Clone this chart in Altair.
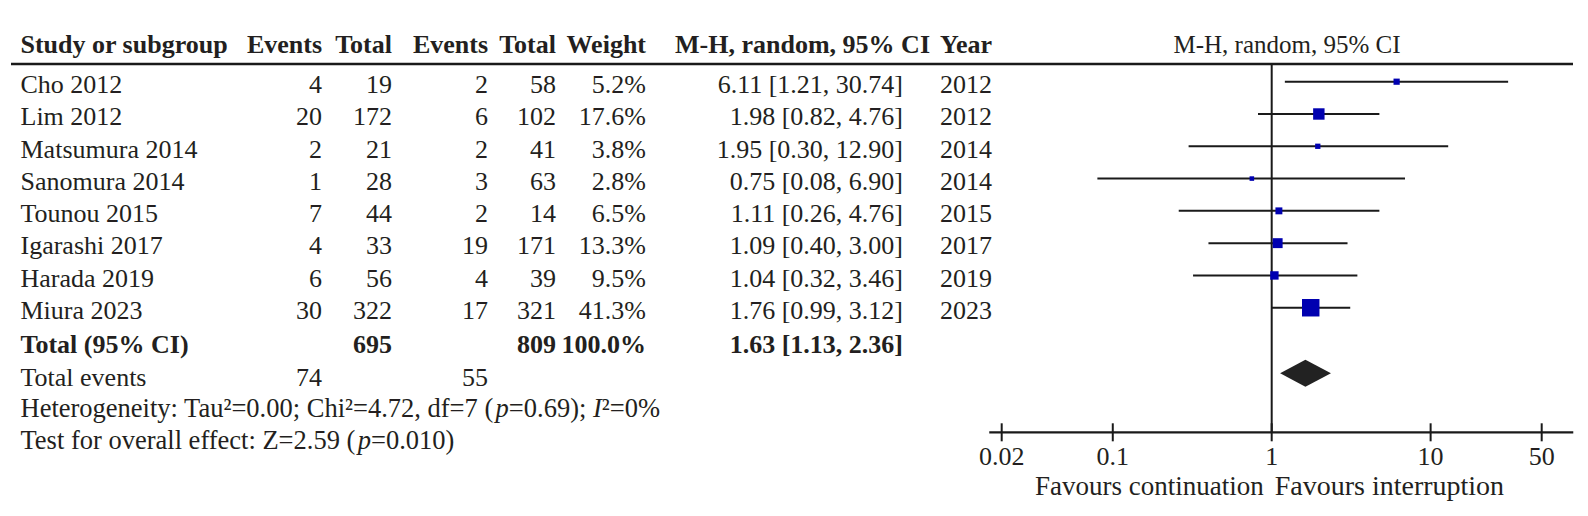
import altair as alt
import pandas as pd

# ---------------- data ----------------
studies = ["Cho 2012", "Lim 2012", "Matsumura 2014", "Sanomura 2014",
           "Tounou 2015", "Igarashi 2017", "Harada 2019", "Miura 2023"]
events_a = [4, 20, 2, 1, 7, 4, 6, 30]
total_a = [19, 172, 21, 28, 44, 33, 56, 322]
events_b = [2, 6, 2, 3, 2, 19, 4, 17]
total_b = [58, 102, 41, 63, 14, 171, 39, 321]
weights = [5.2, 17.6, 3.8, 2.8, 6.5, 13.3, 9.5, 41.3]
odds = [6.11, 1.98, 1.95, 0.75, 1.11, 1.09, 1.04, 1.76]
ci_low = [1.21, 0.82, 0.30, 0.08, 0.26, 0.40, 0.32, 0.99]
ci_high = [30.74, 4.76, 12.90, 6.90, 4.76, 3.00, 3.46, 3.12]
years = [2012, 2012, 2014, 2014, 2015, 2017, 2019, 2023]

pooled = [1.63, 1.13, 2.36]
sum_total = [695, 809]
sum_events = [74, 55]
sum_weight = "100.0%"
# (text, italic) pieces
heterogeneity = [("Heterogeneity: Tau²=0.00; Chi²=4.72, df=7 (", False), ("p", True),
                 ("=0.69); ", False), ("I", True), ("²=0%", False)]
overall = [("Test for overall effect: Z=2.59 (", False), ("p", True), ("=0.010)", False)]
headers = ["Study or subgroup", "Events", "Total", "Events", "Total",
           "Weight", "M-H, random, 95% CI", "Year"]
plot_header = "M-H, random, 95% CI"
tick_values = [0.02, 0.1, 1, 10, 50]
tick_labels = ["0.02", "0.1", "1", "10", "50"]
favours = ["Favours continuation", "Favours interruption"]

# ---------------- layout / style ----------------
M = 8
FONT = "Liberation Serif"
FS = 26
FS_NOTE = 26.5
FS_FAV = 27
FS_PHEAD = 25
TEXT = "#231f20"
BLUE = "#0000b0"
LINE = "#1a1a1a"
TEXT_DY = 3.3
ROW0 = 81.7
STEP = 32.29

# Liberation Serif (Times New Roman metrics) advance widths, 1/1000 em
ADV = {' ': 250, 'H': 722, 'e': 444, 't': 278, 'r': 333, 'o': 500, 'g': 500, 'n': 500,
       'i': 278, 'y': 500, ':': 278, 'T': 611, 'a': 444, 'u': 500, '²': 300, '=': 564,
       '.': 250, ';': 278, 'C': 667, 'h': 500, ',': 250, 'd': 500, 'f': 333, '(': 333,
       ')': 333, 'p': 500, 'I': 333, '%': 833, 's': 389, 'v': 500, 'l': 278, 'c': 444,
       'Z': 611}


def adv(s, size):
    return sum(ADV.get(ch, 500) for ch in s) / 1000 * size


def ypix(r):
    return ROW0 + (r - 1) * STEP - M


ys = alt.Scale(domain=[-1, 14], range=[ypix(-1), ypix(14)])
xs = alt.Scale(type="log", domain=[0.02, 50], range=[1001.7 - M, 1541.7 - M])

R_HEADER = -0.25
R_RULE = 0.452
R_TOTAL = 9.05
R_EVENTS = 10.07
R_HET = 11.03
R_TEST = 12.04
R_DIAMOND = 10.03
R_AXIS = 11.858
R_TICKLAB = 12.53
R_FAV = 13.46
TICK_HALF = 0.279
DIAMOND_HALF = 0.418

df = pd.DataFrame({
    "study": studies, "ea": events_a, "ta": total_a, "eb": events_b, "tb": total_b,
    "w": weights, "or": odds, "lo": ci_low, "hi": ci_high, "year": years,
})
df["row"] = range(1, len(df) + 1)
df["wlab"] = [f"{w:.1f}%" for w in weights]
df["cilab"] = [f"{o:.2f} [{l:.2f}, {h:.2f}]" for o, l, h in zip(odds, ci_low, ci_high)]


def txt(data, field, xpage, align, weight="normal", row="row", dx=0, size=FS, style="normal"):
    return alt.Chart(data).mark_text(
        align=align, baseline="middle", font=FONT, fontSize=size,
        fontWeight=weight, fontStyle=style, color=TEXT, dy=TEXT_DY, dx=dx
    ).encode(
        x=alt.value(xpage - M),
        y=alt.Y(f"{row}:Q", scale=ys, axis=None),
        text=f"{field}:N",
    )


def one(label, row):
    return pd.DataFrame({"label": [label], "row": [row]})


def rich(pieces, row, xstart, size):
    out = []
    x = xstart
    for s, it in pieces:
        out.append(txt(one(s, row), "label", x, "left", size=size,
                       style="italic" if it else "normal"))
        x += adv(s, size)
    return out


layers = []

# header row
head_pos = [(20.5, "left"), (322, "right"), (392, "right"), (488, "right"),
            (556, "right"), (646, "right"), (930, "right"), (940, "left")]
for h, (xp, al) in zip(headers, head_pos):
    layers.append(txt(one(h, R_HEADER), "label", xp, al, weight="bold"))
layers.append(txt(one(plot_header, R_HEADER), "label", 1287, "center", size=FS_PHEAD))

# header rule
layers.append(alt.Chart(one("", R_RULE)).mark_rule(color=LINE, strokeWidth=2.5).encode(
    x=alt.value(11 - M), x2=alt.value(1573 - M),
    y=alt.Y("row:Q", scale=ys, axis=None)))

# study rows
cols = [("study", 20.5, "left"), ("ea", 322, "right"), ("ta", 392, "right"),
        ("eb", 488, "right"), ("tb", 556, "right"), ("wlab", 646, "right"),
        ("cilab", 903, "right"), ("year", 940, "left")]
for f, xp, al in cols:
    layers.append(txt(df, f, xp, al))

# totals
layers.append(txt(one("Total (95% CI)", R_TOTAL), "label", 20.5, "left", weight="bold"))
layers.append(txt(one(str(sum_total[0]), R_TOTAL), "label", 392, "right", weight="bold"))
layers.append(txt(one(str(sum_total[1]), R_TOTAL), "label", 556, "right", weight="bold"))
layers.append(txt(one(sum_weight, R_TOTAL), "label", 646, "right", weight="bold"))
layers.append(txt(one(f"{pooled[0]:.2f} [{pooled[1]:.2f}, {pooled[2]:.2f}]", R_TOTAL),
                  "label", 903, "right", weight="bold"))
layers.append(txt(one("Total events", R_EVENTS), "label", 20.5, "left"))
layers.append(txt(one(str(sum_events[0]), R_EVENTS), "label", 322, "right"))
layers.append(txt(one(str(sum_events[1]), R_EVENTS), "label", 488, "right"))
layers += rich(heterogeneity, R_HET, 20.5, FS_NOTE)
layers += rich(overall, R_TEST, 20.5, FS_NOTE)

# null line
null_df = pd.DataFrame({"x": [1], "y": [R_RULE], "y2": [R_AXIS]})
layers.append(alt.Chart(null_df).mark_rule(color=LINE, strokeWidth=2).encode(
    x=alt.X("x:Q", scale=xs, axis=None),
    y=alt.Y("y:Q", scale=ys, axis=None), y2="y2:Q"))

# CI lines
layers.append(alt.Chart(df).mark_rule(color=LINE, strokeWidth=2).encode(
    x=alt.X("lo:Q", scale=xs, axis=None), x2="hi:Q",
    y=alt.Y("row:Q", scale=ys, axis=None)))

# squares
layers.append(alt.Chart(df).mark_square(color=BLUE, opacity=1, strokeWidth=0).encode(
    x=alt.X("or:Q", scale=xs, axis=None),
    y=alt.Y("row:Q", scale=ys, axis=None),
    size=alt.Size("w:Q", scale=alt.Scale(domain=[0, max(weights)], range=[0, 306]),
                  legend=None)))

# diamond
dia = pd.DataFrame({
    "x": [pooled[1], pooled[0], pooled[2]],
    "y": [R_DIAMOND, R_DIAMOND - DIAMOND_HALF, R_DIAMOND],
    "y2": [R_DIAMOND, R_DIAMOND + DIAMOND_HALF, R_DIAMOND],
})
layers.append(alt.Chart(dia).mark_area(color="#222222", opacity=1).encode(
    x=alt.X("x:Q", scale=xs, axis=None),
    y=alt.Y("y:Q", scale=ys, axis=None), y2="y2:Q"))

# axis line
axis_df = pd.DataFrame({"x": [0.0167], "x2": [79.0], "y": [R_AXIS]})
layers.append(alt.Chart(axis_df).mark_rule(color=LINE, strokeWidth=2.3).encode(
    x=alt.X("x:Q", scale=xs, axis=None), x2="x2:Q",
    y=alt.Y("y:Q", scale=ys, axis=None)))

# ticks
tick_df = pd.DataFrame({"v": tick_values, "label": tick_labels})
tick_df["y"] = R_AXIS - TICK_HALF
tick_df["y2"] = R_AXIS + TICK_HALF
tick_df["row"] = R_TICKLAB
layers.append(alt.Chart(tick_df).mark_rule(color=LINE, strokeWidth=2).encode(
    x=alt.X("v:Q", scale=xs, axis=None),
    y=alt.Y("y:Q", scale=ys, axis=None), y2="y2:Q"))
layers.append(alt.Chart(tick_df).mark_text(
    align="center", baseline="middle", font=FONT, fontSize=FS, color=TEXT, dy=TEXT_DY
).encode(x=alt.X("v:Q", scale=xs, axis=None),
         y=alt.Y("row:Q", scale=ys, axis=None), text="label:N"))

# favours labels
fav_l = pd.DataFrame({"x": [1], "row": [R_FAV], "label": [favours[0]]})
fav_r = pd.DataFrame({"x": [1], "row": [R_FAV], "label": [favours[1]]})
for d, al, dx, fs in [(fav_l, "right", -8, FS_FAV), (fav_r, "left", 3, 28)]:
    layers.append(alt.Chart(d).mark_text(
        align=al, baseline="middle", font=FONT, fontSize=fs, color=TEXT, dy=TEXT_DY, dx=dx
    ).encode(x=alt.X("x:Q", scale=xs, axis=None),
             y=alt.Y("row:Q", scale=ys, axis=None), text="label:N"))

chart = alt.layer(*layers).properties(
    width=1572, height=500, padding=0,
    autosize=alt.AutoSizeParams(type="none"),
    background="white",
).configure_view(stroke=None)

chart.save("out.html", embed_options={"renderer": "svg", "actions": False})
